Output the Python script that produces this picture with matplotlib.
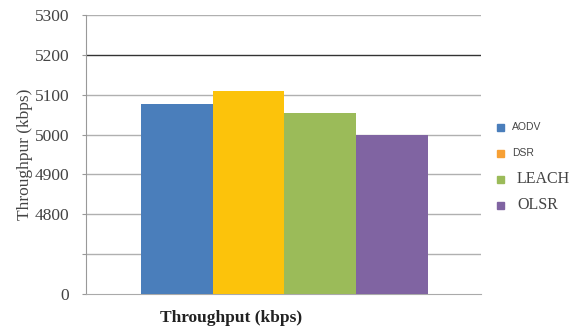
import numpy as np
import matplotlib
matplotlib.use("Agg")
import matplotlib.pyplot as plt

# throughput per routing protocol
protocols = ["AODV", "DSR", "LEACH", "OLSR"]
throughput = [5076, 5110, 5054, 5000]
bar_colors = ["#4a7ebb", "#fcc30b", "#9bbb59", "#8064a2"]
legend_colors = ["#4a7ebb", "#f7a035", "#9bbb59", "#8064a2"]
legend_fonts = ["Liberation Sans", "Liberation Sans", "Liberation Serif", "Liberation Serif"]
legend_sizes = [7.5, 7.5, 11.5, 11.5]
legend_text_x = [512, 512, 517, 517]

yticks = [0, 2400, 4800, 4900, 5000, 5100, 5200, 5300]
ytick_labels = ["0", "", "4800", "4900", "5000", "5100", "5200", "5300"]

# broken axis: 0..4800 squeezed into two grid steps, then 100 per step
brk_vals = [0, 4800, 5300]
brk_pos = [0, 2, 7]

def fwd(v):
    return np.interp(v, brk_vals, brk_pos)

def inv(p):
    return np.interp(p, brk_pos, brk_vals)

fig = plt.figure(figsize=(5.82, 3.27), dpi=100)
ax = fig.add_axes([0.148, 0.101, 0.678, 0.853])
ax.set_yscale("function", functions=(fwd, inv))

x = np.arange(len(protocols))
bars = ax.bar(x, throughput, width=1.0, color=bar_colors, zorder=3)

ax.set_ylim(0, 5300)
ax.set_xlim(-1.267, 4.24)
ax.set_yticks(yticks)
ax.set_yticklabels(ytick_labels, family="Liberation Serif", fontsize=12.5, color="#444444")
ax.set_xticks([])

for t in yticks[1:]:
    c = "#333333" if t == 5200 else "#b0b0b0"
    ax.axhline(t, color=c, lw=1.0, zorder=1)

for side in ["top", "right"]:
    ax.spines[side].set_visible(False)
ax.spines["left"].set_color("#999999")
ax.spines["bottom"].set_color("#aaaaaa")
ax.tick_params(axis="y", length=3, color="#999999", pad=9)

ax.set_ylabel("Throughpur (kbps)", family="Liberation Serif", fontsize=12.5, color="#444444")
ax.yaxis.set_label_coords(-0.135, 0.5)

fig.text(231 / 582, 1 - 318 / 327, "Throughput (kbps)", family="Liberation Serif",
         fontweight="bold", fontsize=12.5, ha="center", va="center", color="#222222")

# legend on the right
for i, name in enumerate(protocols):
    yy = 1 - (127 + 26 * i) / 327
    fig.patches.append(plt.Rectangle((497 / 582, yy - 3.5 / 327), 7 / 582, 7 / 327,
                                     transform=fig.transFigure, color=legend_colors[i]))
    fig.text(legend_text_x[i] / 582, yy, name, family=legend_fonts[i], fontsize=legend_sizes[i],
             va="center", ha="left", color="#444444")

fig.savefig("out.png", dpi=100)
